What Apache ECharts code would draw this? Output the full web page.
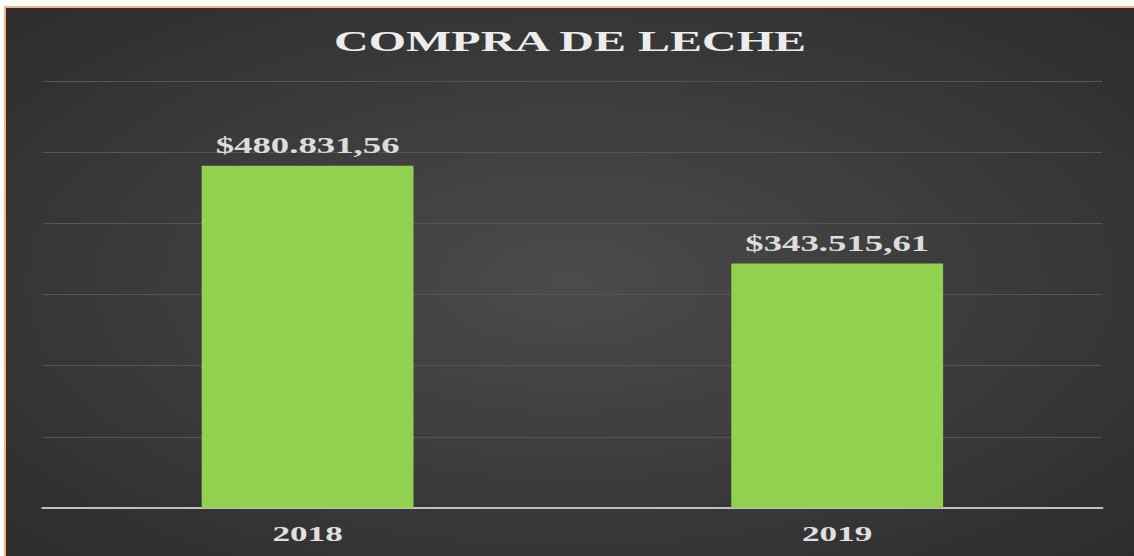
<!DOCTYPE html>
<html>
<head>
<meta charset="utf-8">
<script src="https://cdn.jsdelivr.net/npm/echarts@6/dist/echarts.min.js"></script>
<style>
  html, body { margin: 0; padding: 0; background: #fff; overflow: hidden; }
  #frame {
    position: absolute; left: 4px; top: 6px;
    border-left: 2px solid #F4B183; border-top: 2px solid #F4B183;
    width: 1128px; height: 548px; overflow: hidden;
  }
  /* the source picture is stretched sideways, so the chart is too */
  #chart {
    width: 705px; height: 548px;
    transform: scaleX(1.6); transform-origin: 0 0;
  }
</style>
</head>
<body>
<div id="frame"><div id="chart"></div></div>
<script>
// data
const years = ['2018', '2019'];
const compras = [480831.56, 343515.61];
const titleText = 'COMPRA DE LECHE';

function money(v) {
  let parts = v.toFixed(2).split('.');
  let ent = parts[0].replace(/\B(?=(\d{3})+(?!\d))/g, '.');
  return '$' + ent + ',' + parts[1];
}

const chart = echarts.init(document.getElementById('chart'), null, { renderer: 'svg' });

var option = {
  backgroundColor: {
    type: 'radial', x: 0.5, y: 0.5, r: 0.85,
    colorStops: [
      { offset: 0, color: '#4b4b4b' },
      { offset: 1, color: '#262626' }
    ]
  },
  title: {
    text: titleText,
    left: 'center',
    top: 13,
    textStyle: {
      fontFamily: 'Liberation Serif',
      fontWeight: 'bold',
      fontSize: 30,
      color: '#ececec'
    }
  },
  grid: {
    left: 23,
    right: 20,
    top: 73,
    bottom: 48
  },
  xAxis: {
    type: 'category',
    data: years,
    axisLine: { lineStyle: { color: '#bfbfbf', width: 2 } },
    axisTick: { show: false },
    axisLabel: {
      margin: 14,
      fontFamily: 'Liberation Serif',
      fontWeight: 'bold',
      fontSize: 22,
      color: '#e0e0e0'
    }
  },
  yAxis: {
    type: 'value',
    min: 0,
    max: 600000,
    interval: 100000,
    axisLabel: { show: false },
    axisLine: { show: false },
    axisTick: { show: false },
    splitLine: { lineStyle: { color: '#555555', width: 1 } }
  },
  series: [{
    type: 'bar',
    data: compras,
    barCategoryGap: '60%',
    itemStyle: { color: '#92D050' },
    label: {
      show: true,
      position: 'top',
      distance: 9,
      formatter: function (p) { return money(p.value); },
      fontFamily: 'Liberation Serif',
      fontWeight: 'bold',
      fontSize: 23,
      color: '#dcdcdc'
    }
  }]
};

chart.setOption(option);
</script>
</body>
</html>
